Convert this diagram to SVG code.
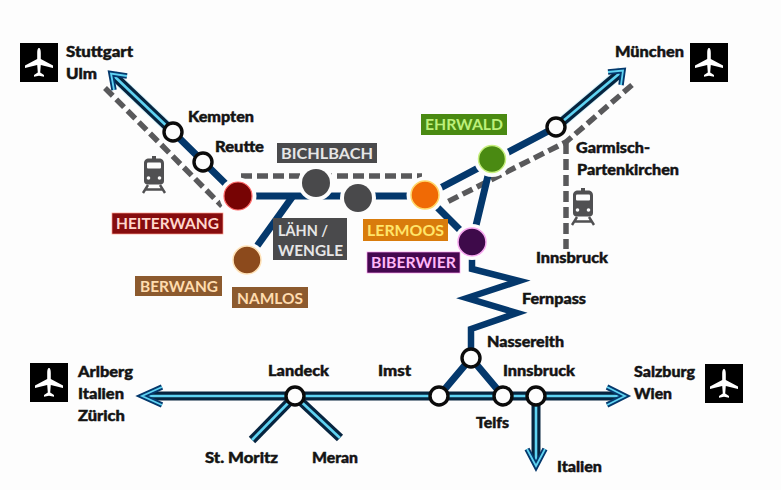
<svg xmlns="http://www.w3.org/2000/svg" width="781" height="490" viewBox="0 0 781 490">
<style>
.bg{fill:#fdfdfd}
text{font-family:"Lato","Liberation Sans",sans-serif}
.city{font-size:15px;font-weight:900;fill:#141414;stroke:#141414;stroke-width:.45}
.tag{font-size:14.5px;font-weight:700}
.navy{fill:none;stroke:#04386c;stroke-width:7}
.halo{fill:none;stroke:#9fe6f7;stroke-width:11;opacity:.4}
.outer{fill:none;stroke:#06243f;stroke-width:9}
.inner{fill:none;stroke:#5fd3f2;stroke-width:2.6}
.chev{fill:none;stroke:#04386c;stroke-width:5.5;stroke-linejoin:miter}
.chevi{fill:none;stroke:#5fd3f2;stroke-width:1.8;stroke-linejoin:miter}
.dash{fill:none;stroke:#59595b;stroke-width:5.5;stroke-dasharray:11 5}
.gap{fill:#fdfdfd}
.stop{fill:#fdfdfd;stroke:#0b0b0b;stroke-width:3.4}
.box{fill:#000}
.plane{fill:#fff}
.train{fill:#505052}
</style>
<defs>
<symbol id="plane" viewBox="0 0 38 39" overflow="visible">
<rect class="box" width="38" height="39"/>
<path class="plane" d="M19 5C20.300 5 20.800 7 20.800 10L20.800 16L33 22.500L33 25L20.800 22L20.200 29.500L24 32L24 33.700L19 32.800L14 33.700L14 32L17.800 29.500L17.200 22L5 25L5 22.500L17.200 16L17.200 10C17.200 7 17.700 5 19 5Z"/>
</symbol>
<symbol id="train" viewBox="0 0 24 38" overflow="visible">
<path class="train" d="M10 0h4v2.500h3c3 0 5 1.500 5 5V25c0 2-1.500 3.500-3.500 3.500H5.500C3.500 28.500 2 27 2 25V7.500c0-3.500 2-5 5-5h3Z"/>
<rect x="5" y="6.500" width="14" height="6" rx="1" fill="#fdfdfd"/>
<circle cx="6.500" cy="22" r="1.800" fill="#fdfdfd"/>
<circle cx="17.500" cy="22" r="1.800" fill="#fdfdfd"/>
<path d="M6 29L1 37M18 29L23 37M3.500 33.500H20.500" fill="none" stroke="#505052" stroke-width="2.400"/>
</symbol>
</defs>
<rect class="bg" width="781" height="490"/>

<g id="connectors">
<!-- dashed rail -->
<path class="dash" d="M105 88L222 206"/>
<path class="dash" d="M241 176H422"/>
<path class="dash" d="M632 85L566 142L447 202"/>
<path class="dash" d="M566 143V249"/>
<!-- solid lines -->
<path class="navy" d="M173 132L238 196H425L556 127"/>
<path class="navy" d="M293 196L247 260"/>
<path class="navy" d="M425 195L472 242L492 159"/>
<path class="navy" style="stroke-width:6.500;stroke-linejoin:miter" d="M472 242V269L519 281L467 298L517 313L471 329V358"/>
<path class="navy" d="M471 358L439 396M471 358L503 396"/>
<!-- double lines -->
<path class="halo" d="M173 132L114 76"/>
<path class="outer" d="M173 132L113 75"/>
<path class="inner" d="M173 132L113 75"/>
<path class="chev" d="M127 76L111 73.500L114 90"/>
<path class="chevi" d="M127 76L111 73.500L114 90"/>
<path class="halo" d="M556 127L622 71"/>
<path class="outer" d="M556 127L620 73"/>
<path class="inner" d="M556 127L620 73"/>
<path class="chev" d="M608 72L623 70.500L621 85"/>
<path class="chevi" d="M608 72L623 70.500L621 85"/>
<path class="outer" d="M146 396H621"/>
<path class="inner" d="M146 396H621"/>
<path class="chev" d="M162 387L142 396L162 405"/>
<path class="chevi" d="M162 387L142 396L162 405"/>
<path class="chev" d="M607 387L625 396L607 405"/>
<path class="chevi" d="M607 387L625 396L607 405"/>
<path class="outer" d="M536 396V462"/>
<path class="inner" d="M536 396V462"/>
<path class="chev" d="M527 449L536 466L545 449"/>
<path class="chevi" d="M527 449L536 466L545 449"/>
<path class="outer" d="M295 396L252 440"/>
<path class="inner" d="M295 396L252 440"/>
<path class="outer" d="M295 396L340 438"/>
<path class="inner" d="M295 396L340 438"/>
</g>

<use id="plane-stuttgart" href="#plane" x="20" y="43" width="38" height="39"/>
<use id="plane-muenchen" href="#plane" x="690" y="43" width="38" height="39"/>
<use id="plane-arlberg" href="#plane" x="30" y="363" width="38" height="39"/>
<use id="plane-salzburg" href="#plane" x="705" y="364" width="38" height="39"/>
<use id="train-west" href="#train" x="142" y="156" width="24" height="38"/>
<use id="train-east" href="#train" x="571" y="188" width="24" height="38"/>

<g id="node-kempten"><circle class="stop" cx="173" cy="132" r="9"/><text class="city" x="188" y="122" textLength="66" lengthAdjust="spacingAndGlyphs">Kempten</text></g>
<g id="node-reutte"><circle class="stop" cx="203" cy="162" r="9"/><text class="city" x="215" y="152" textLength="49" lengthAdjust="spacingAndGlyphs">Reutte</text></g>
<g id="node-garmisch"><circle class="stop" cx="556" cy="127" r="9"/><text class="city" x="576" y="153" textLength="74" lengthAdjust="spacingAndGlyphs">Garmisch-</text><text class="city" x="577" y="175" textLength="102" lengthAdjust="spacingAndGlyphs">Partenkirchen</text></g>
<g id="node-nassereith"><circle class="stop" cx="471" cy="358" r="9"/><text class="city" x="487" y="347" textLength="77" lengthAdjust="spacingAndGlyphs">Nassereith</text></g>
<g id="node-imst"><circle class="stop" cx="439" cy="396" r="9"/><text class="city" x="378" y="376" textLength="33" lengthAdjust="spacingAndGlyphs">Imst</text></g>
<g id="node-telfs"><circle class="stop" cx="503" cy="396" r="9"/><text class="city" x="476" y="428" textLength="33" lengthAdjust="spacingAndGlyphs">Telfs</text></g>
<g id="node-innsbruck"><circle class="stop" cx="536" cy="396" r="9"/><text class="city" x="503" y="376" textLength="72" lengthAdjust="spacingAndGlyphs">Innsbruck</text></g>
<g id="node-landeck"><circle class="stop" cx="295" cy="396" r="9"/><text class="city" x="268" y="376" textLength="61" lengthAdjust="spacingAndGlyphs">Landeck</text></g>

<g id="node-heiterwang"><circle class="gap" cx="238" cy="196" r="18.500"/><circle cx="238" cy="196" r="14" fill="#770404" stroke="#ff6a6a" stroke-width="1.200"/><rect x="112" y="213" width="111" height="21" fill="#860c0e" stroke="#ff9a8a" stroke-width=".7"/><text class="tag" x="116" y="229" textLength="103" lengthAdjust="spacingAndGlyphs" fill="#ffd6cc">HEITERWANG</text></g>
<g id="node-bichlbach"><circle class="gap" cx="316" cy="183" r="18"/><circle cx="316" cy="183" r="14" fill="#49494b"/><rect x="277" y="143" width="100" height="20" fill="#4a4a4c"/><text class="tag" x="281" y="159" textLength="92" lengthAdjust="spacingAndGlyphs" fill="#e6e6e6">BICHLBACH</text></g>
<g id="node-laehn"><circle class="gap" cx="358" cy="198" r="18"/><circle cx="358" cy="198" r="14" fill="#49494b"/><rect x="273" y="218" width="74" height="42" fill="#4a4a4c"/><text class="tag" x="278" y="236" textLength="50" lengthAdjust="spacingAndGlyphs" fill="#e6e6e6">LÄHN /</text><text class="tag" x="278" y="256" textLength="65" lengthAdjust="spacingAndGlyphs" fill="#e6e6e6">WENGLE</text></g>
<g id="node-lermoos"><circle class="gap" cx="425" cy="195" r="18.500"/><circle cx="425" cy="195" r="14" fill="#f06a05" stroke="#ffd76a" stroke-width="1.500"/><rect x="363" y="219" width="85" height="22" fill="#d97c0c"/><text class="tag" x="367" y="236" textLength="77" lengthAdjust="spacingAndGlyphs" fill="#ffe56a">LERMOOS</text></g>
<g id="node-ehrwald"><circle class="gap" cx="492" cy="159" r="18"/><circle cx="492" cy="159" r="13.500" fill="#4a8a12" stroke="#c8f080" stroke-width="1.500"/><rect x="421" y="114" width="86" height="21" fill="#4a8a12"/><text class="tag" x="425" y="130" textLength="78" lengthAdjust="spacingAndGlyphs" fill="#bdf07a">EHRWALD</text></g>
<g id="node-biberwier"><circle class="gap" cx="472" cy="242" r="18"/><circle cx="472" cy="242" r="14" fill="#3e0a4a" stroke="#f7a8f0" stroke-width="1.500"/><rect x="367" y="252" width="93" height="21" fill="#44084f" stroke="#ff9cf0" stroke-width=".7"/><text class="tag" x="371" y="268" textLength="85" lengthAdjust="spacingAndGlyphs" fill="#ffb6f8">BIBERWIER</text></g>
<g id="node-berwang"><circle class="gap" cx="247" cy="260" r="18"/><circle cx="247" cy="260" r="14" fill="#8c4a1c" stroke="#ffe2b8" stroke-width="1.500"/><rect x="135" y="276" width="87" height="20" fill="#8c5a2e"/><text class="tag" x="140" y="292" textLength="78" lengthAdjust="spacingAndGlyphs" fill="#ffdcae">BERWANG</text></g>
<g id="node-namlos"><rect x="232" y="287" width="76" height="21" fill="#8c5a2e"/><text class="tag" x="237" y="304" textLength="66" lengthAdjust="spacingAndGlyphs" fill="#ffdcae">NAMLOS</text></g>

<g id="labels">
<text class="city" x="66" y="57" textLength="67" lengthAdjust="spacingAndGlyphs">Stuttgart</text>
<text class="city" x="66" y="79" textLength="31" lengthAdjust="spacingAndGlyphs">Ulm</text>
<text class="city" x="615" y="57" textLength="69" lengthAdjust="spacingAndGlyphs">München</text>
<text class="city" x="536" y="263" textLength="72" lengthAdjust="spacingAndGlyphs">Innsbruck</text>
<text class="city" x="522" y="304" textLength="64" lengthAdjust="spacingAndGlyphs">Fernpass</text>
<text class="city" x="634" y="377" textLength="61" lengthAdjust="spacingAndGlyphs">Salzburg</text>
<text class="city" x="634" y="399" textLength="38" lengthAdjust="spacingAndGlyphs">Wien</text>
<text class="city" x="557" y="472" textLength="45" lengthAdjust="spacingAndGlyphs">Italien</text>
<text class="city" x="78" y="377" textLength="55" lengthAdjust="spacingAndGlyphs">Arlberg</text>
<text class="city" x="78" y="399" textLength="46" lengthAdjust="spacingAndGlyphs">Italien</text>
<text class="city" x="78" y="421" textLength="47" lengthAdjust="spacingAndGlyphs">Zürich</text>
<text class="city" x="205" y="463" textLength="73" lengthAdjust="spacingAndGlyphs">St. Moritz</text>
<text class="city" x="312" y="463" textLength="46" lengthAdjust="spacingAndGlyphs">Meran</text>
</g>
</svg>
